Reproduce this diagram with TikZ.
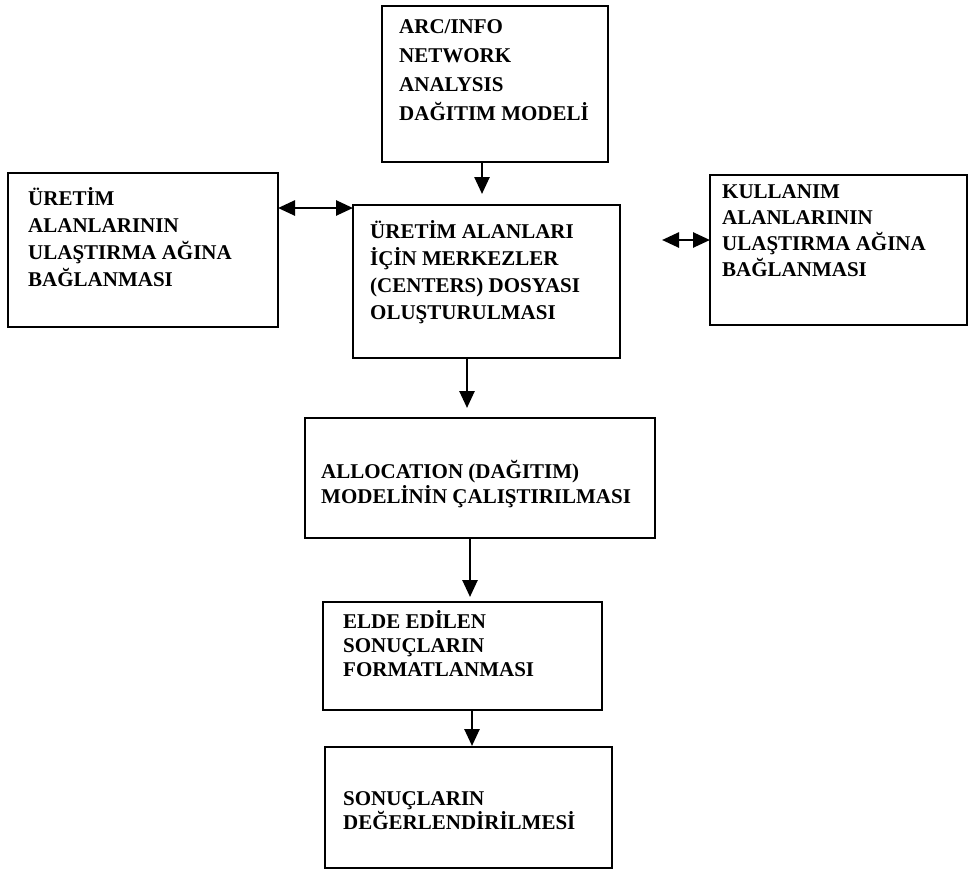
\documentclass[tikz,border=0pt]{standalone}
\usepackage{fontspec}
\setmainfont{Liberation Serif}
\usetikzlibrary{arrows.meta}
\newcommand{\mystack}[2]{\vtop{\baselineskip=#1\relax\lineskiplimit=-20pt\halign{##\hfil\cr#2\cr}}}
\begin{document}
\begin{tikzpicture}[x=1pt,y=-1pt,
  box/.style={draw=black, line width=2.6pt, inner sep=0pt, outer sep=0pt},
  txt/.style={anchor=base west, inner sep=0pt, font=\fontsize{21pt}{25pt}\selectfont\bfseries},
  arr/.style={line width=2.6pt, -{Triangle[length=17pt,width=15pt]}},
  arrtwo/.style={line width=2.6pt, {Triangle[length=17pt,width=15pt]}-{Triangle[length=17pt,width=15pt]}}]
\useasboundingbox (0,0) rectangle (971,870);
% boxes
\node[box, minimum width=226pt, minimum height=156pt] (arc) at (495,84) {};
\node[box, minimum width=270pt, minimum height=154pt] (left) at (143,250) {};
\node[box, minimum width=267pt, minimum height=153pt] (cen) at (486.5,281.5) {};
\node[box, minimum width=257pt, minimum height=150pt] (right) at (838.5,250) {};
\node[box, minimum width=350pt, minimum height=120pt] (alloc) at (480,478) {};
\node[box, minimum width=279pt, minimum height=108pt] (elde) at (462.5,656) {};
\node[box, minimum width=287pt, minimum height=121pt] (son) at (468.5,807.5) {};
% texts
\node[txt] (arct) at (399,33) {\mystack{29pt}{ARC/INFO\cr NETWORK\cr ANALYSIS\cr DAĞITIM MODELİ}};
\node[txt] (leftt) at (28,205) {\mystack{27pt}{ÜRETİM\cr ALANLARININ\cr ULAŞTIRMA AĞINA\cr BAĞLANMASI}};
\node[txt] (cent) at (370,238) {\mystack{27pt}{ÜRETİM ALANLARI\cr İÇİN MERKEZLER\cr (CENTERS) DOSYASI\cr OLUŞTURULMASI}};
\node[txt] (rightt) at (722,198) {\mystack{26pt}{KULLANIM\cr ALANLARININ\cr ULAŞTIRMA AĞINA\cr BAĞLANMASI}};
\node[txt] (allolt) at (321,478) {\mystack{25pt}{ALLOCATION (DAĞITIM)\cr MODELİNİN ÇALIŞTIRILMASI}};
\node[txt] (eldet) at (343,628) {\mystack{24pt}{ELDE EDİLEN\cr SONUÇLARIN\cr FORMATLANMASI}};
\node[txt] (sont) at (343,805) {\mystack{24pt}{SONUÇLARIN\cr DEĞERLENDİRİLMESİ}};
% connectors
\draw[arr, shorten >=11pt] ([xshift=-13pt]arc.south) -- ([xshift=-13pt]arc.south |- cen.north);
\draw[arrtwo] ([yshift=-35pt]left.north east) -- ([yshift=-3pt]cen.north west);
\coordinate (rfree) at (662,240);
\draw[arrtwo] (rfree) -- (right.west |- rfree);
\draw[arr, shorten >=10pt] ([xshift=-19.5pt]cen.south) -- ([xshift=-19.5pt]cen.south |- alloc.north);
\draw[arr, shorten >=5pt] ([xshift=-10pt]alloc.south) -- ([xshift=-10pt]alloc.south |- elde.north);
\draw[arr, shorten >=1pt] ([xshift=9.5pt]elde.south) -- ([xshift=9.5pt]elde.south |- son.north);
\end{tikzpicture}
\end{document}
